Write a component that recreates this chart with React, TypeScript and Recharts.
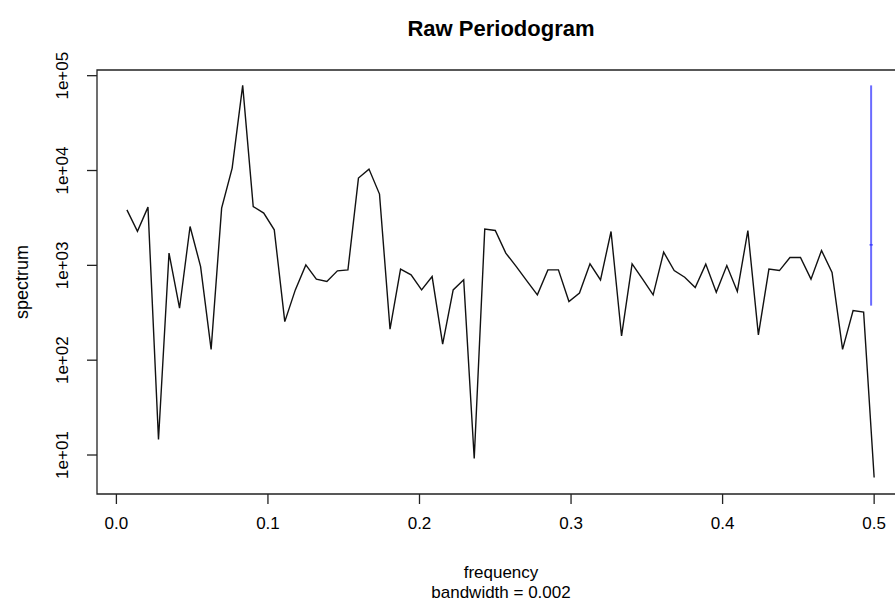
import React from "react";
import { LineChart, Line, XAxis, YAxis, ReferenceArea, ReferenceLine, Customized } from "recharts";

// frequency = k/144, k = 1..72
const freq = [
  0.00694, 0.01389, 0.02083, 0.02778, 0.03472, 0.04167, 0.04861, 0.05556, 0.0625, 0.06944,
  0.07639, 0.08333, 0.09028, 0.09722, 0.10417, 0.11111, 0.11806, 0.125, 0.13194, 0.13889,
  0.14583, 0.15278, 0.15972, 0.16667, 0.17361, 0.18056, 0.1875, 0.19444, 0.20139, 0.20833,
  0.21528, 0.22222, 0.22917, 0.23611, 0.24306, 0.25, 0.25694, 0.26389, 0.27083, 0.27778,
  0.28472, 0.29167, 0.29861, 0.30556, 0.3125, 0.31944, 0.32639, 0.33333, 0.34028, 0.34722,
  0.35417, 0.36111, 0.36806, 0.375, 0.38194, 0.38889, 0.39583, 0.40278, 0.40972, 0.41667,
  0.42361, 0.43056, 0.4375, 0.44444, 0.45139, 0.45833, 0.46528, 0.47222, 0.47917, 0.48611,
  0.49306, 0.5,
];

const spectrum = [
  3850, 2280, 4110, 14.6, 1345, 353, 2570, 971, 130, 4015,
  10600, 79000, 4175, 3555, 2370, 255, 551, 1012, 715, 675,
  875, 896, 8320, 10350, 5640, 212, 912, 795, 551, 762,
  148, 551, 703, 9.2, 2410, 2330, 1345, 971, 686, 489,
  896, 896, 415, 510, 1037, 703, 2275, 180, 1037, 715,
  489, 1377, 881, 750, 583, 1030, 521, 995, 530, 2330,
  185, 912, 881, 1210, 1210, 715, 1435, 840, 130, 333,
  321, 5.8,
];

const xTicks = [0, 0.1, 0.2, 0.3, 0.4, 0.5];
const yTicks = [10, 100, 1000, 10000, 100000];

// confidence bar (blue)
const ciX = 0.498;
const ciBandwidth = 0.002;
const ciLow = 376;
const ciMid = 1645;
const ciHigh = 79000;

const xDomain = [-0.0128, 0.5197];
const yDomain = [3.88, 114800];

const data = freq.map((f, i) => ({ freq: f, spec: spectrum[i] }));

const FONT = "'Liberation Sans', Arial, Helvetica, sans-serif";

const fmtExp = (v: number) => {
  const e = Math.round(Math.log10(v));
  return `1e+${String(e).padStart(2, "0")}`;
};

const XTick = ({ x, y, payload }: any) => (
  <text x={x} y={y + 23} textAnchor="middle" fontSize={17} fill="#000" fontFamily={FONT}>
    {Number(payload.value).toFixed(1)}
  </text>
);

const YTick = ({ x, y, payload }: any) => {
  const cx = x - 22;
  return (
    <text
      x={cx}
      y={y}
      transform={`rotate(-90, ${cx}, ${y})`}
      textAnchor="middle"
      dominantBaseline="central"
      fontSize={17}
      fill="#000"
      fontFamily={FONT}
    >
      {fmtExp(payload.value)}
    </text>
  );
};

const Titles = () => (
  <g fontFamily={FONT} fill="#000">
    <text x={501} y={36} textAnchor="middle" fontSize={22} fontWeight="bold">Raw Periodogram</text>
    <text x={501} y={578} textAnchor="middle" fontSize={17}>frequency</text>
    <text x={501} y={598} textAnchor="middle" fontSize={17}>bandwidth = 0.002</text>
    <text x={22} y={282} transform="rotate(-90, 22, 282)" textAnchor="middle" dominantBaseline="central" fontSize={18}>
      spectrum
    </text>
  </g>
);

export default function App() {
  return (
    <div style={{ position: "absolute", left: 0, top: 0, width: 895, height: 605, overflow: "hidden", background: "#fff" }}>
      <LineChart width={920} height={605} data={data} margin={{ top: 70, right: 16, bottom: 0, left: 0 }}>
        <XAxis
          dataKey="freq"
          type="number"
          domain={xDomain}
          ticks={xTicks}
          allowDataOverflow
          height={111}
          axisLine={false}
          tickSize={10}
          tickLine={{ stroke: "#222", strokeWidth: 1.3 }}
          tick={(p: any) => <XTick {...p} />}
        />
        <YAxis
          type="number"
          scale="log"
          domain={yDomain}
          ticks={yTicks}
          allowDataOverflow
          width={97}
          axisLine={false}
          tickSize={10}
          tickLine={{ stroke: "#222", strokeWidth: 1.3 }}
          tick={(p: any) => <YTick {...p} />}
        />
        <ReferenceArea
          x1={xDomain[0]}
          x2={xDomain[1]}
          y1={yDomain[0]}
          y2={yDomain[1]}
          fill="none"
          stroke="#222"
          strokeWidth={1.3}
          ifOverflow="extendDomain"
        />
        <Line
          dataKey="spec"
          stroke="#111"
          strokeWidth={1.4}
          dot={false}
          type="linear"
          isAnimationActive={false}
        />
        <ReferenceLine
          segment={[{ x: ciX, y: ciLow }, { x: ciX, y: ciHigh }]}
          stroke="#6b6bff"
          strokeWidth={2}
        />
        <ReferenceLine
          segment={[{ x: ciX - ciBandwidth / 2, y: ciMid }, { x: ciX + ciBandwidth / 2, y: ciMid }]}
          stroke="#3a3aff"
          strokeWidth={1.5}
        />
        <Customized component={Titles} />
      </LineChart>
    </div>
  );
}
